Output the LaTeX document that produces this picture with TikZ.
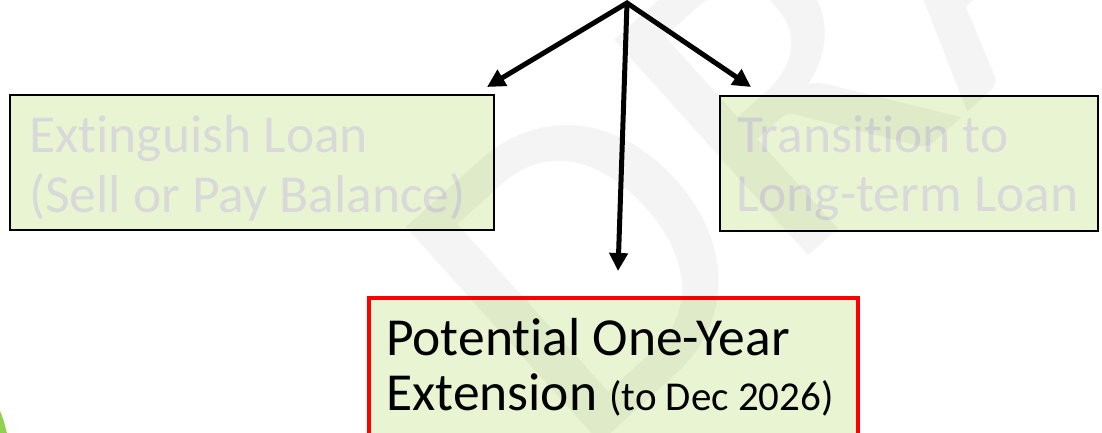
\documentclass[tikz,border=0pt]{standalone}
\usepackage{fontspec}
\setmainfont{Carlito}[Ligatures=NoCommon]
\usetikzlibrary{arrows.meta,calc}
\definecolor{boxfill}{RGB}{233,245,210}
\definecolor{ghost}{RGB}{217,217,217}
\definecolor{alertred}{RGB}{255,0,0}
\definecolor{leafgreen}{RGB}{146,208,80}
\begin{document}
\begin{tikzpicture}[x=1pt,y=-1pt,
  box/.style={draw=black, line width=2.5pt, fill=boxfill, inner sep=0pt, outer sep=0pt},
  redbox/.style={draw=alertred, line width=4pt, fill=boxfill, inner sep=0pt, outer sep=0pt},
  dimtext/.style={text=ghost, font=\fontsize{53.5}{60}\selectfont, inner sep=0pt, anchor=base west},
  maintext/.style={text=black, font=\fontsize{53.5}{60}\selectfont, inner sep=0pt, anchor=base west},
  flow/.style={line width=5pt, -{Triangle[length=18pt,width=18pt]}},
  flowboth/.style={line width=5pt, line join=miter, {Triangle[length=18pt,width=18pt]}-{Triangle[length=18pt,width=18pt]}},
  watermark/.style={rotate=42, anchor=base west, inner sep=0pt, text=black, text opacity=0.045, font=\fontsize{452}{452}\selectfont}
]
\useasboundingbox (0,0) rectangle (1102,433);
\clip (0,0) rectangle (1102,433);
\fill[white] (0,0) rectangle (1102,433);

\fill[leafgreen] (0,411) .. controls (3,418) .. (7,433) -- (0,433) -- cycle;

\node[box, minimum width=484pt, minimum height=135pt, anchor=north west] (extbox) at (10,95) {};
\node[box, minimum width=378pt, minimum height=135pt, anchor=north west] (ltbox) at (720,96) {};
\node[redbox, minimum width=489pt, minimum height=180pt, anchor=north west] (extnbox) at (369,298) {};

\node[dimtext] (ext1) at (29,152) {Extinguish Loan};
\node[dimtext] (ext2) at (29,212) {(Sell or Pay Balance)};
\node[dimtext] (lt1) at (737,152) {Transition to};
\node[dimtext] (lt2) at (736,211) {Long-term Loan};
\node[maintext] (pot1) at (386,355) {Potential One-Year};
\node[maintext] (pot2) at (386,410) {Extension {\fontsize{41}{48}\selectfont(to Dec 2026)}};

\coordinate (fork) at (627,3);
\coordinate (tipL) at ($(extbox.north east)+(-7,-8)$);
\coordinate (tipR) at ($(ltbox.north west)+(31,-9)$);
\coordinate (tipM) at ($(extnbox.north west)+(249,-27)$);
\draw[flowboth] (tipL) -- (fork) -- (tipR);
\draw[flow] (fork) -- (tipM);

\node[watermark] (wm) at (577.5,463.7) {DRAFT};
\end{tikzpicture}
\end{document}
